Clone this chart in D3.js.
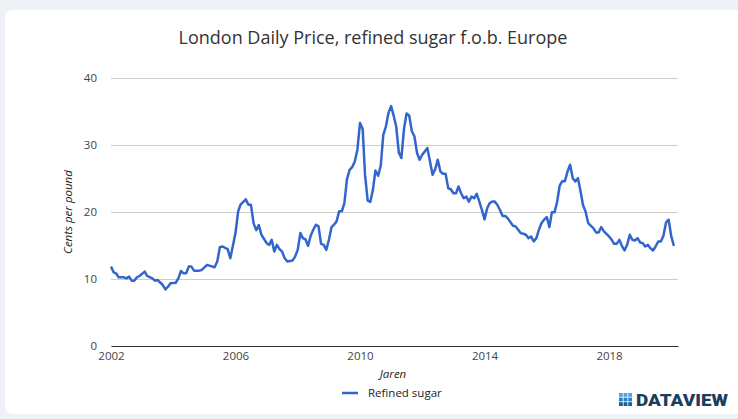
<!DOCTYPE html>
<html>
<head>
<meta charset="utf-8">
<script src="https://cdn.jsdelivr.net/npm/d3@7"></script>
<style>
  body { margin: 0; background: #eef2f6; }
  svg { display: block; }
</style>
</head>
<body>
<svg width="738" height="419"></svg>
<script>
const titleText = 'London Daily Price, refined sugar f.o.b. Europe';
const xAxisLabelText = 'Jaren';
const yAxisLabelText = 'Cents per pound';
const seriesName = 'Refined sugar';

// monthly readings (YYYY-MM) and price in cents per pound
const months = [
  '2002-01','2002-02','2002-03','2002-04','2002-06','2002-07','2002-08','2002-09','2002-10','2002-11','2002-12',
  '2003-02','2003-03','2003-05','2003-06','2003-07','2003-09','2003-10','2003-11','2003-12',
  '2004-02','2004-03','2004-04','2004-05','2004-06','2004-07','2004-08','2004-09','2004-11','2004-12',
  '2005-02','2005-03','2005-05','2005-06','2005-07','2005-08','2005-10','2005-11',
  '2006-01','2006-02','2006-03','2006-05','2006-06','2006-07','2006-08','2006-09','2006-10','2006-11',
  '2007-01','2007-02','2007-03','2007-04','2007-05','2007-06','2007-07','2007-08','2007-09','2007-11','2007-12',
  '2008-01','2008-02','2008-03','2008-04','2008-05','2008-06','2008-07','2008-08','2008-09','2008-10','2008-11','2008-12',
  '2009-01','2009-02','2009-03','2009-04','2009-05','2009-06','2009-07','2009-08','2009-09','2009-10','2009-11','2009-12',
  '2010-01','2010-02','2010-03','2010-04','2010-05','2010-06','2010-07','2010-08','2010-09','2010-10','2010-11','2010-12',
  '2011-01','2011-02','2011-03','2011-04','2011-05','2011-06','2011-07','2011-08','2011-09','2011-10','2011-11','2011-12',
  '2012-01','2012-02','2012-03','2012-04','2012-05','2012-06','2012-07','2012-08','2012-09','2012-10','2012-11','2012-12',
  '2013-01','2013-02','2013-03','2013-04','2013-05','2013-06','2013-07','2013-08','2013-09','2013-10','2013-11','2013-12',
  '2014-01','2014-02','2014-03','2014-04','2014-05','2014-06','2014-07','2014-08','2014-09','2014-10','2014-12',
  '2015-01','2015-03','2015-04','2015-05','2015-06','2015-07','2015-08','2015-09','2015-10','2015-11','2015-12',
  '2016-01','2016-02','2016-03','2016-04','2016-05','2016-06','2016-07','2016-08','2016-09','2016-10','2016-11','2016-12',
  '2017-01','2017-02','2017-03','2017-04','2017-05','2017-07','2017-08','2017-09','2017-10','2017-11',
  '2018-01','2018-02','2018-03','2018-04','2018-05','2018-06','2018-07','2018-08','2018-09','2018-10','2018-11','2018-12',
  '2019-01','2019-02','2019-03','2019-04','2019-05','2019-06','2019-07','2019-08','2019-09','2019-10','2019-11','2019-12',
  '2020-01','2020-02'
];
const prices = [
  11.85,11.0,10.85,10.25,10.25,10.1,10.35,9.75,9.75,10.25,10.45,
  11.1,10.45,10.1,9.75,9.85,9.1,8.45,8.85,9.35,
  9.45,10.1,11.2,10.85,10.85,11.85,11.85,11.25,11.25,11.35,
  12.1,12.0,11.75,12.6,14.75,14.85,14.45,13.1,
  16.85,20.1,21.1,21.9,21.1,21.1,18.3,17.3,18.05,16.6,
  15.35,15.1,15.85,14.1,15.1,14.45,14.1,13.1,12.6,12.75,13.35,
  14.35,16.85,16.1,15.9,14.95,16.45,17.35,18.1,17.85,15.25,15.1,14.35,
  15.85,17.75,18.1,18.6,20.1,20.1,21.3,24.9,26.3,26.7,27.55,29.3,
  33.3,32.4,25.5,21.7,21.5,23.3,26.2,25.4,26.9,31.5,32.8,34.8,
  35.8,34.3,32.8,28.9,28.05,32.4,34.7,34.4,32.05,31.3,28.8,27.8,
  28.55,29.05,29.55,27.55,25.55,26.4,27.8,26.05,25.7,25.7,23.55,23.4,
  22.8,22.8,23.8,22.8,22.05,22.3,21.55,22.3,22.05,22.7,21.55,20.3,
  18.9,20.55,21.3,21.55,21.55,21.05,20.3,19.4,19.4,19.05,17.95,
  17.85,16.85,16.75,16.6,16.1,16.35,15.6,16.1,17.35,18.35,18.85,
  19.25,17.75,19.95,19.95,21.45,23.95,24.6,24.6,26.05,27.05,25.05,24.55,
  25.05,23.05,21.05,20.05,18.35,17.6,16.95,16.95,17.75,17.1,
  16.35,15.85,15.25,15.25,15.85,14.95,14.25,15.1,16.6,15.85,15.75,16.1,
  15.45,15.35,14.85,15.1,14.6,14.25,14.85,15.6,15.6,16.45,18.45,18.85,
  16.35,14.95
];
const xTickYears = [2002, 2006, 2010, 2014, 2018];
const yTicks = [0, 10, 20, 30, 40];

const svg = d3.select('svg');
const parseMonth = d3.timeParse('%Y-%m');
const data = months.map((m, i) => ({ date: parseMonth(m), value: prices[i] }));

// card
svg.append('rect')
  .attr('x', 5).attr('y', 10)
  .attr('width', 745).attr('height', 404)
  .attr('rx', 8)
  .attr('fill', '#fff');

const margin = { top: 78, left: 111, right: 60, bottom: 73 };
const xScale = d3.scaleTime()
  .domain([new Date(2002, 0, 1), new Date(2020, 2, 20)])
  .range([margin.left, 678]);
const yScale = d3.scaleLinear()
  .domain([0, 40])
  .range([346, margin.top]);

const font = '"Open Sans", sans-serif';

svg.append('text')
  .attr('x', 373).attr('y', 44)
  .attr('text-anchor', 'middle')
  .attr('font-family', font)
  .attr('font-size', 18)
  .attr('fill', '#333')
  .text(titleText);

// y axis with gridlines
const yAxisG = svg.append('g')
  .attr('transform', `translate(${margin.left},0)`)
  .call(d3.axisLeft(yScale).tickValues(yTicks).tickSize(-(678 - margin.left)).tickPadding(14));
yAxisG.select('.domain').remove();
yAxisG.selectAll('.tick line').attr('stroke', '#ccc');
yAxisG.selectAll('.tick text')
  .attr('font-family', font).attr('font-size', 11.5).attr('fill', '#444');

// x axis
const xAxisG = svg.append('g')
  .attr('transform', 'translate(0,346)')
  .call(d3.axisBottom(xScale)
    .tickValues(xTickYears.map(y => new Date(y, 0, 1)))
    .tickFormat(d3.timeFormat('%Y'))
    .tickSize(0).tickPadding(6));
xAxisG.select('.domain').attr('stroke', '#333');
xAxisG.selectAll('.tick text')
  .attr('font-family', font).attr('font-size', 11.5).attr('fill', '#444');

// line
const line = d3.line()
  .x(d => xScale(d.date))
  .y(d => yScale(d.value));
svg.append('path')
  .datum(data)
  .attr('d', line)
  .attr('fill', 'none')
  .attr('stroke', '#3366cc')
  .attr('stroke-width', 2.5)
  .attr('stroke-linejoin', 'round');

// axis labels
svg.append('text')
  .attr('x', 393).attr('y', 378)
  .attr('text-anchor', 'middle')
  .attr('font-family', font).attr('font-style', 'italic')
  .attr('font-size', 11.5).attr('fill', '#222')
  .text(xAxisLabelText);
svg.append('text')
  .attr('transform', 'translate(72,212) rotate(-90)')
  .attr('text-anchor', 'middle')
  .attr('font-family', font).attr('font-style', 'italic')
  .attr('font-size', 11.5).attr('fill', '#222')
  .text(yAxisLabelText);

// legend
svg.append('line')
  .attr('x1', 342).attr('x2', 358)
  .attr('y1', 393).attr('y2', 393)
  .attr('stroke', '#3366cc').attr('stroke-width', 2.5);
svg.append('text')
  .attr('x', 368).attr('y', 397)
  .attr('font-family', font).attr('font-size', 11.5).attr('fill', '#222')
  .text(seriesName);

// logo
const logo = svg.append('g').attr('transform', 'translate(619,393)');
const cellColours = ['#4fa3e0', '#4fa3e0', '#4fa3e0', '#2f7fc0', '#2f7fc0', '#2f7fc0', '#1d5d94', '#1d5d94', '#1d5d94'];
d3.range(9).forEach(i => {
  logo.append('rect')
    .attr('x', (i % 3) * 4.6).attr('y', Math.floor(i / 3) * 4.6)
    .attr('width', 3.8).attr('height', 3.8)
    .attr('fill', cellColours[i]);
});
logo.append('text')
  .attr('x', 17).attr('y', 13)
  .attr('font-family', 'Roboto, sans-serif')
  .attr('font-weight', 900)
  .attr('font-size', 16)
  .attr('textLength', 92)
  .attr('lengthAdjust', 'spacingAndGlyphs')
  .attr('fill', '#1b3d5e')
  .text('DATAVIEW');
</script>
</body>
</html>
